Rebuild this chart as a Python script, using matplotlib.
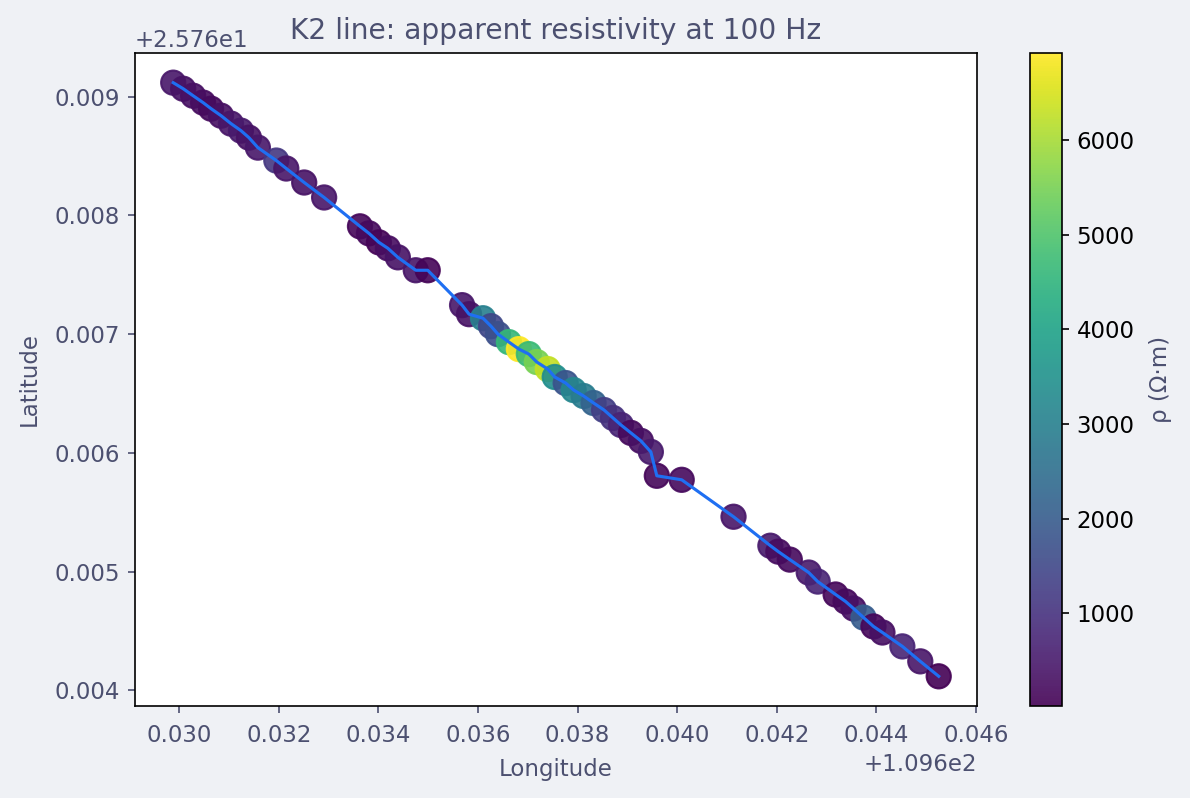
import matplotlib
matplotlib.use("Agg")
import matplotlib.pyplot as plt
import numpy as np

# Station coordinates (degrees) and apparent resistivity at 100 Hz
lon_offsets = [0.02988, 0.03008, 0.03028, 0.03048, 0.03064, 0.03084, 0.03104, 0.03124, 0.03140, 0.03158,
               0.03195, 0.03215, 0.03251, 0.03291, 0.03363, 0.03381, 0.03401, 0.03419, 0.03439, 0.03475,
               0.03499, 0.03568, 0.03582, 0.03610, 0.03626, 0.03640, 0.03662, 0.03682, 0.03702, 0.03718,
               0.03740, 0.03754, 0.03776, 0.03792, 0.03812, 0.03832, 0.03853, 0.03871, 0.03887, 0.03907,
               0.03927, 0.03947, 0.03959, 0.04009, 0.04113, 0.04187, 0.04203, 0.04226, 0.04264, 0.04282,
               0.04318, 0.04338, 0.04354, 0.04374, 0.04394, 0.04412, 0.04452, 0.04488, 0.04525]
lat_offsets = [0.009118, 0.009067, 0.009008, 0.008950, 0.008899, 0.008840, 0.008773, 0.008714, 0.008655, 0.008571,
               0.008462, 0.008395, 0.008277, 0.008151, 0.007908, 0.007849, 0.007773, 0.007723, 0.007647, 0.007538,
               0.007538, 0.007244, 0.007168, 0.007134, 0.007067, 0.007000, 0.006933, 0.006874, 0.006832, 0.006765,
               0.006706, 0.006639, 0.006588, 0.006529, 0.006479, 0.006420, 0.006361, 0.006294, 0.006235, 0.006168,
               0.006101, 0.006008, 0.005807, 0.005773, 0.005462, 0.005218, 0.005168, 0.005101, 0.004992, 0.004916,
               0.004807, 0.004748, 0.004689, 0.004613, 0.004538, 0.004487, 0.004370, 0.004244, 0.004118]
rho = [450, 350, 300, 250, 200, 300, 400, 500, 350, 450,
       1100, 400, 350, 400, 150, 200, 100, 250, 350, 400,
       80, 450, 350, 3000, 1500, 1700, 4600, 6920, 4700, 5500,
       6300, 3400, 1800, 3200, 2900, 2200, 1300, 1000, 700, 200,
       300, 500, 150, 200, 400, 500, 250, 200, 500, 700,
       150, 200, 300, 2000, 150, 300, 700, 400, 20]

LON0 = 109.6
LAT0 = 25.76
lon = LON0 + np.array(lon_offsets)
lat = LAT0 + np.array(lat_offsets)

TXT = "#4c5070"
BG = "#eff1f5"

plt.rcParams['font.family'] = ['DejaVu Sans']
fig = plt.figure(figsize=(1190/150, 798/150), dpi=150, facecolor=BG)
ax = fig.add_axes([0.1134, 0.1153, 0.7076, 0.8183])
cax = fig.add_axes([0.8655, 0.1153, 0.0269, 0.8183])

ax.plot(lon, lat, color="#1f6ff2", lw=1.5, zorder=3)
sc = ax.scatter(lon, lat, c=rho, cmap="viridis", s=135, alpha=0.9, zorder=2)

ax.set_title("K2 line: apparent resistivity at 100 Hz", color=TXT, fontsize=13.5, pad=6.5)
ax.set_xlabel("Longitude", color=TXT, fontsize=11, labelpad=5.5)
ax.set_ylabel("Latitude", color=TXT, fontsize=11, labelpad=7)
ax.tick_params(colors=TXT, labelsize=11)
ax.tick_params(axis='x', pad=5)
ax.xaxis.get_offset_text().set_color(TXT)
ax.yaxis.get_offset_text().set_color(TXT)
ax.xaxis.get_offset_text().set_fontsize(11)
ax.yaxis.get_offset_text().set_fontsize(11)
ax.set_facecolor("white")

cb = fig.colorbar(sc, cax=cax)
cb.set_label("ρ (Ω·m)", color=TXT, fontsize=11, labelpad=7)
cb.ax.tick_params(labelsize=11, colors="black")
cb.set_alpha(1)

fig.savefig("out.png", dpi=150, facecolor=BG)
